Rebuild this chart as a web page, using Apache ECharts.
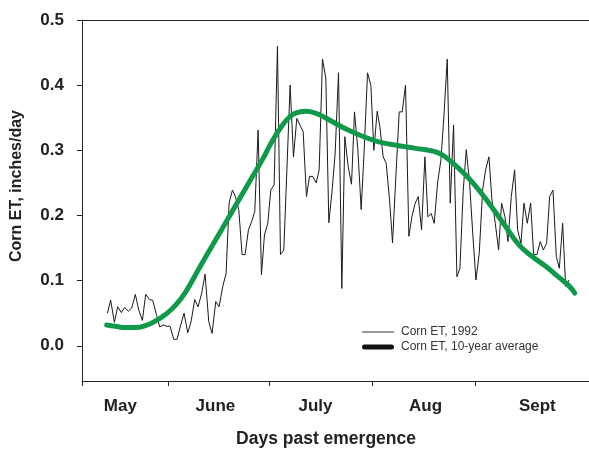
<!DOCTYPE html>
<html>
<head>
<meta charset="utf-8">
<script src="https://cdn.jsdelivr.net/npm/echarts@6/dist/echarts.min.js"></script>
<style>
html,body{margin:0;padding:0;background:#fff;}
#chart{width:589px;height:451px;}
</style>
</head>
<body>
<div id="chart"></div>
<script>
// Month tick positions (days past emergence) and label positions
const monthLabels = ['May', 'June', 'July', 'Aug', 'Sept'];
const monthLabelDays = [11.5, 40, 70, 103, 136.5];
const monthTickDays = [0, 26, 56, 87, 118];
const yTicks = [0, 0.1, 0.2, 0.3, 0.4, 0.5];

// Corn ET, 10-year average [day, inches/day]
const avg10yr = [
  [7.4,0.032],[10,0.030],[13,0.028],[16,0.028],[19,0.031],[22,0.038],[25,0.048],
  [28,0.062],[31,0.082],[35,0.118],[40,0.162],[45,0.206],[50,0.25],[54,0.285],
  [57,0.314],[60,0.338],[62,0.35],[64,0.357],[67,0.36],[70,0.357],[74,0.347],
  [79,0.333],[84,0.322],[89,0.313],[95,0.307],[100,0.303],[105,0.299],[108,0.293],
  [111,0.281],[115,0.262],[119,0.239],[123,0.212],[127,0.183],[131,0.155],
  [135,0.137],[139,0.122],[143,0.105],[146,0.092],[147.7,0.081]
];

// Corn ET, 1992 daily [day, inches/day]
const et1992 = [
  [7.6,0.050],[8.6,0.070],[9.7,0.036],[10.7,0.060],[11.8,0.051],[12.8,0.059],[13.9,0.053],
  [14.9,0.058],[16.0,0.079],[17.0,0.055],[18.1,0.039],[19.1,0.079],[20.2,0.071],[21.2,0.070],
  [22.3,0.048],[23.3,0.029],[24.4,0.032],[25.4,0.030],[26.4,0.030],[27.5,0.010],[28.5,0.010],
  [29.6,0.032],[30.6,0.050],[31.7,0.020],[32.7,0.037],[33.8,0.071],[34.8,0.060],[35.9,0.081],
  [36.9,0.110],[38.0,0.037],[39.0,0.019],[40.1,0.068],[41.1,0.060],[42.2,0.091],[43.2,0.111],
  [44.1,0.219],[45.1,0.239],[46.0,0.229],[47.0,0.209],[48.0,0.140],[48.9,0.140],[49.9,0.178],
  [50.9,0.191],[51.8,0.206],[52.8,0.331],[53.8,0.109],[54.7,0.170],[55.7,0.188],[56.6,0.239],
  [57.6,0.247],[58.6,0.460],[59.5,0.140],[60.5,0.147],[61.5,0.280],[62.4,0.400],[63.4,0.290],
  [64.4,0.349],[65.3,0.339],[66.3,0.329],[67.3,0.229],[68.2,0.260],[69.2,0.260],[70.2,0.250],
  [71.1,0.270],[72.1,0.440],[73.1,0.411],[74.0,0.189],[75.0,0.239],[75.9,0.296],[76.9,0.419],
  [77.9,0.088],[78.8,0.321],[79.8,0.275],[80.8,0.248],[81.7,0.359],[82.7,0.301],[83.7,0.209],
  [84.6,0.300],[85.6,0.419],[86.6,0.400],[87.5,0.300],[88.5,0.360],
  [89.3,0.336],[90.3,0.290],[91.2,0.280],[92.2,0.224],[93.1,0.158],[94.1,0.260],[95.1,0.359],
  [96.0,0.359],[97.0,0.400],[98.0,0.168],[98.9,0.198],[99.9,0.219],[100.8,0.229],[101.8,0.178],
  [102.8,0.290],[103.7,0.198],[104.7,0.203],[105.6,0.188],[106.6,0.250],[107.6,0.285],[108.5,0.352],
  [109.5,0.440],[110.4,0.219],[111.4,0.339],[112.4,0.106],[113.3,0.119],[114.3,0.239],[115.2,0.301],
  [116.2,0.250],[117.2,0.168],[118.1,0.101],[119.1,0.142],[120.1,0.239],[121.0,0.270],[122.0,0.290],
  [122.9,0.224],[123.9,0.188],[124.9,0.147],[125.8,0.219],[126.8,0.198],[127.7,0.160],[128.7,0.229],
  [129.7,0.270],[130.6,0.178],[131.6,0.157],[132.5,0.219],[133.5,0.188],[134.5,0.219],[135.4,0.140],
  [136.4,0.140],[137.4,0.160],[138.3,0.147],[139.3,0.157],[140.2,0.229],[141.2,0.239],[142.2,0.137],
  [143.1,0.119],[144.1,0.188],[145.0,0.091],[146.0,0.101]
];

const chart = echarts.init(document.getElementById('chart'), null, {renderer: 'canvas'});
const FONT = '"Liberation Sans", Arial, Helvetica, sans-serif';
const labelMap = {};
monthLabelDays.forEach((d, i) => { labelMap[d] = monthLabels[i]; });

chart.setOption({
  animation: false,
  backgroundColor: '#fff',
  grid: {left: 82, top: 20, right: 0, bottom: 70, containLabel: false},
  legend: {
    orient: 'vertical',
    left: 357,
    top: 321,
    itemWidth: 32,
    itemHeight: 14,
    itemGap: 3,
    symbolKeepAspect: true,
    textStyle: {fontFamily: FONT, fontSize: 12, color: '#333', padding: [0, 0, 0, 2]},
    data: [
      {name: 'Corn ET, 1992', icon: 'path://M0,0 H32 V1 H0 Z',
        itemStyle: {color: '#333', borderWidth: 0}},
      {name: 'Corn ET, 10-year average',
        icon: 'path://M2.5,0 H29.5 A2.5,2.5 0 0 1 29.5,5 H2.5 A2.5,2.5 0 0 1 2.5,0 Z',
        itemStyle: {color: '#111', borderWidth: 0}}
    ]
  },
  xAxis: [{
    type: 'value',
    min: 0,
    max: 152,
    axisLine: {show: true, onZero: false, lineStyle: {color: '#222', width: 1}},
    axisTick: {show: true, length: 5, inside: false, customValues: monthTickDays, lineStyle: {color: '#222'}},
    axisLabel: {
      show: true,
      customValues: monthLabelDays,
      margin: 17,
      fontFamily: FONT, fontSize: 17, fontWeight: 'bold', color: '#222',
      formatter: v => labelMap[v] || ''
    },
    splitLine: {show: false}
  }, {
    type: 'value',
    position: 'top',
    min: 0,
    max: 152,
    axisLine: {show: true, onZero: false, lineStyle: {color: '#222', width: 1}},
    axisTick: {show: false},
    axisLabel: {show: false},
    splitLine: {show: false}
  }],
  yAxis: {
    type: 'value',
    min: -0.054,
    max: 0.5,
    axisLine: {show: true, onZero: false, lineStyle: {color: '#222', width: 1}},
    axisTick: {show: true, length: 5, customValues: yTicks, lineStyle: {color: '#222'}},
    axisLabel: {
      customValues: yTicks,
      margin: 18,
      fontFamily: FONT, fontSize: 17, fontWeight: 'bold', color: '#222',
      formatter: v => v.toFixed(1)
    },
    splitLine: {show: false}
  },
  graphic: [
    {
      type: 'text',
      x: 17, y: 186,
      rotation: Math.PI / 2,
      style: {text: 'Corn ET, inches/day', fontFamily: FONT, fontSize: 16, fontWeight: 'bold',
        fill: '#222', align: 'center', verticalAlign: 'middle'}
    },
    {
      type: 'text',
      x: 326, y: 439,
      style: {text: 'Days past emergence', fontFamily: FONT, fontSize: 17.5, fontWeight: 'bold',
        fill: '#222', align: 'center', verticalAlign: 'middle'}
    }
  ],
  series: [
    {
      name: 'Corn ET, 1992',
      type: 'line',
      data: et1992,
      symbol: 'none',
      lineStyle: {color: '#1a1a1a', width: 1},
      itemStyle: {color: '#1a1a1a'},
      z: 2
    },
    {
      name: 'Corn ET, 10-year average',
      type: 'line',
      data: avg10yr,
      symbol: 'none',
      smooth: 0.5,
      lineStyle: {color: '#10994a', width: 5, cap: 'round'},
      itemStyle: {color: '#10994a'},
      z: 3
    }
  ]
});
</script>
</body>
</html>
